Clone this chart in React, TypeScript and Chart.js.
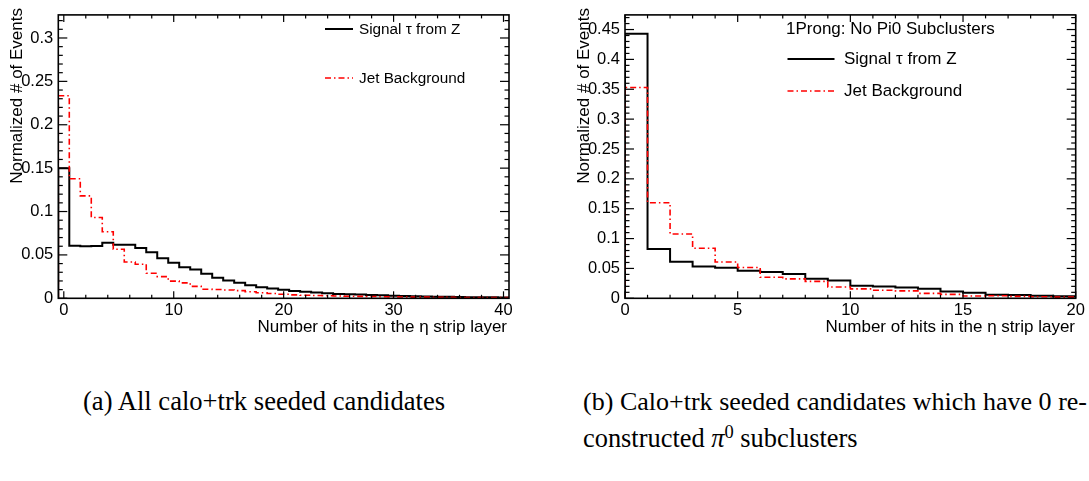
import React, { useEffect, useRef } from "react";
import { Chart, registerables } from "chart.js";

Chart.register(...registerables);

// ---------- Data: left panel (all calo+trk seeded candidates) ----------
// bins centred on integer hit counts 0..40
const leftBinCenters = [
  0, 1, 2, 3, 4, 5, 6, 7, 8, 9, 10, 11, 12, 13, 14, 15, 16, 17, 18, 19, 20,
  21, 22, 23, 24, 25, 26, 27, 28, 29, 30, 31, 32, 33, 34, 35, 36, 37, 38, 39, 40,
];
const leftSignal = [
  0.15, 0.0606, 0.06, 0.0602, 0.064, 0.0617, 0.0617, 0.058, 0.053, 0.0462,
  0.041, 0.0357, 0.0333, 0.0282, 0.0237, 0.0206, 0.0178, 0.015, 0.0127, 0.0112,
  0.0098, 0.0085, 0.0075, 0.0066, 0.0058, 0.005, 0.0047, 0.0044, 0.0038, 0.0035,
  0.003, 0.0027, 0.0024, 0.0021, 0.0019, 0.0017, 0.0015, 0.0013, 0.0012, 0.0011,
  0.001,
];
const leftBackground = [
  0.2334, 0.1377, 0.118, 0.0932, 0.0767, 0.0565, 0.0419, 0.0393, 0.0288, 0.025,
  0.0198, 0.0178, 0.0138, 0.0105, 0.0102, 0.0096, 0.0088, 0.0076, 0.0064, 0.0055,
  0.0047, 0.004, 0.0036, 0.0032, 0.0029, 0.0026, 0.0024, 0.0022, 0.002, 0.0018,
  0.0016, 0.0015, 0.0014, 0.0013, 0.0012, 0.0011, 0.001, 0.001, 0.0009, 0.0009,
  0.0008,
];
const leftXTicks = [0, 10, 20, 30, 40];
const leftYTicks = [0, 0.05, 0.1, 0.15, 0.2, 0.25, 0.3];

// ---------- Data: right panel (0 reconstructed pi0 subclusters) ----------
// bins [n, n+1) for n = 0..19
const rightBinLowEdges = [
  0, 1, 2, 3, 4, 5, 6, 7, 8, 9, 10, 11, 12, 13, 14, 15, 16, 17, 18, 19,
];
const rightSignal = [
  0.443, 0.0826, 0.0614, 0.0533, 0.0511, 0.0462, 0.044, 0.0408, 0.0326, 0.0299,
  0.0212, 0.0196, 0.0179, 0.0158, 0.0114, 0.0092, 0.006, 0.0054, 0.0043, 0.0033,
];
const rightBackground = [
  0.353, 0.16, 0.1076, 0.0837, 0.0609, 0.0516, 0.0353, 0.0326, 0.0283, 0.019,
  0.0158, 0.0136, 0.0125, 0.0082, 0.0065, 0.0038, 0.0043, 0.0033, 0.0027, 0.002,
];
const rightXTicks = [0, 5, 10, 15, 20];
const rightYTicks = [0, 0.05, 0.1, 0.15, 0.2, 0.25, 0.3, 0.35, 0.4, 0.45];

const SANS = '"Liberation Sans", Arial, Helvetica, sans-serif';

function histPoints(lowEdges: number[], width: number, values: number[]) {
  const pts: { x: number; y: number }[] = [{ x: lowEdges[0], y: 0 }];
  values.forEach((v, i) => pts.push({ x: lowEdges[i], y: v }));
  pts.push({ x: lowEdges[values.length - 1] + width, y: 0 });
  return pts;
}

function range(from: number, to: number, step: number) {
  const out: number[] = [];
  const n = Math.round((to - from) / step);
  for (let i = 0; i <= n; i++) out.push(+(from + i * step).toFixed(6));
  return out;
}

type LegendEntry = {
  label: string;
  color: string;
  dash: number[];
  width: number;
  y: number;
};

type PanelProps = {
  left: number;
  width: number;
  height: number;
  xMin: number;
  xMax: number;
  yMax: number;
  xTicks: number[];
  yTicks: number[];
  xMinor: number[];
  yMinor: number[];
  yAxisWidth: number;
  padTop: number;
  padRight: number;
  xAxisHeight: number;
  signal: { x: number; y: number }[];
  background: { x: number; y: number }[];
  yTitleX: number;
  xTitleRight: number;
  header?: { text: string; x: number; y: number };
  legendLineX0: number;
  legendLineX1: number;
  legendTextX: number;
  legendFont: number;
  legend: LegendEntry[];
};

function Panel(p: PanelProps) {
  const ref = useRef<HTMLCanvasElement | null>(null);
  useEffect(() => {
    const canvas = ref.current;
    if (!canvas) return;

    const rootPlugin = {
      id: "rootFrame",
      afterDatasetsDraw(chart: any) {
        const { ctx, chartArea: a, scales } = chart;
        const xs = scales.x;
        const ys = scales.y;
        ctx.save();
        ctx.strokeStyle = "#000";
        ctx.setLineDash([]);
        // ticks
        ctx.lineWidth = 1.2;
        const seg = (x0: number, y0: number, x1: number, y1: number) => {
          ctx.beginPath();
          ctx.moveTo(x0, y0);
          ctx.lineTo(x1, y1);
          ctx.stroke();
        };
        const xMajLen = 7, xMinLen = 3.5, yMajLen = 9, yMinLen = 4.5;
        p.xMinor.forEach((v) => {
          if (v < p.xMin || v > p.xMax) return;
          const px = xs.getPixelForValue(v);
          const len = p.xTicks.includes(v) ? xMajLen : xMinLen;
          seg(px, a.bottom, px, a.bottom - len);
          seg(px, a.top, px, a.top + len);
        });
        p.yMinor.forEach((v) => {
          if (v > p.yMax) return;
          const py = ys.getPixelForValue(v);
          const len = p.yTicks.some((t) => Math.abs(t - v) < 1e-9) ? yMajLen : yMinLen;
          seg(a.left, py, a.left + len, py);
          seg(a.right, py, a.right - len, py);
        });
        // frame
        ctx.lineWidth = 1.6;
        ctx.strokeRect(a.left, a.top, a.right - a.left, a.bottom - a.top);

        // axis titles
        ctx.fillStyle = "#000";
        ctx.font = `17px ${SANS}`;
        ctx.textAlign = "right";
        ctx.textBaseline = "middle";
        ctx.fillText("Number of hits in the \u03b7 strip layer", p.xTitleRight, 327);
        ctx.save();
        ctx.translate(p.yTitleX, 8);
        ctx.rotate(-Math.PI / 2);
        ctx.textAlign = "right";
        ctx.fillText("Normalized # of Events", 0, 0);
        ctx.restore();

        // legend
        ctx.font = `${p.legendFont}px ${SANS}`;
        ctx.textAlign = "left";
        if (p.header) ctx.fillText(p.header.text, p.header.x, p.header.y);
        p.legend.forEach((e) => {
          ctx.strokeStyle = e.color;
          ctx.lineWidth = e.width;
          ctx.setLineDash(e.dash);
          seg(p.legendLineX0, e.y, p.legendLineX1, e.y);
          ctx.setLineDash([]);
          ctx.fillStyle = "#000";
          ctx.fillText(e.label, p.legendTextX, e.y + 0.5);
        });
        ctx.restore();
      },
    };

    const tickFont = { family: SANS, size: 16.5 };
    const chart = new Chart(canvas, {
      type: "line",
      data: {
        datasets: [
          {
            label: "Signal \u03c4 from Z",
            data: p.signal,
            borderColor: "#000000",
            borderWidth: 2,
            stepped: "before",
            pointRadius: 0,
            fill: false,
            order: 1,
          },
          {
            label: "Jet Background",
            data: p.background,
            borderColor: "#ff0000",
            borderWidth: 1.6,
            borderDash: [6, 3, 1.5, 3],
            stepped: "before",
            pointRadius: 0,
            fill: false,
            order: 0,
          },
        ],
      },
      options: {
        animation: false,
        responsive: false,
        devicePixelRatio: 1,
        layout: { padding: { top: p.padTop, right: p.padRight, left: 0, bottom: 0 } },
        plugins: { legend: { display: false }, tooltip: { enabled: false } },
        scales: {
          x: {
            type: "linear",
            min: p.xMin,
            max: p.xMax,
            grid: { display: false, drawTicks: false },
            border: { display: false },
            ticks: {
              padding: 2,
              font: tickFont,
              color: "#000",
              maxRotation: 0,
              autoSkip: false,
              callback: (v: any) => String(v),
            },
            afterBuildTicks: (s: any) => {
              s.ticks = p.xTicks.map((v) => ({ value: v }));
            },
            afterFit: (s: any) => {
              s.height = p.xAxisHeight;
            },
          },
          y: {
            type: "linear",
            min: 0,
            max: p.yMax,
            grid: { display: false, drawTicks: false },
            border: { display: false },
            ticks: {
              padding: 5,
              font: tickFont,
              color: "#000",
              autoSkip: false,
              callback: (v: any) => String(v),
            },
            afterBuildTicks: (s: any) => {
              s.ticks = p.yTicks.map((v) => ({ value: v }));
            },
            afterFit: (s: any) => {
              s.width = p.yAxisWidth;
            },
          },
        },
      } as any,
      plugins: [rootPlugin],
    } as any);
    return () => chart.destroy();
  }, []);
  return (
    <canvas
      ref={ref}
      width={p.width}
      height={p.height}
      style={{ position: "absolute", left: p.left, top: 0, width: p.width, height: p.height }}
    />
  );
}

export default function App() {
  const capStyle: React.CSSProperties = {
    position: "absolute",
    fontFamily: '"Liberation Serif", "Times New Roman", serif',
    fontSize: 26,
    lineHeight: "37px",
    color: "#000",
    whiteSpace: "nowrap",
  };
  return (
    <div
      style={{
        position: "absolute",
        left: 0,
        top: 0,
        width: 1089,
        height: 481,
        background: "#fff",
        overflow: "hidden",
      }}
    >
      <Panel
        left={0}
        width={540}
        height={345}
        xMin={-0.5}
        xMax={40.5}
        yMax={0.3266}
        xTicks={leftXTicks}
        yTicks={leftYTicks}
        xMinor={range(0, 40, 2)}
        yMinor={range(0, 0.32, 0.01)}
        yAxisWidth={58.3}
        padTop={7.3}
        padRight={31}
        xAxisHeight={46.7}
        signal={histPoints(leftBinCenters.map((c) => c - 0.5), 1, leftSignal)}
        background={histPoints(leftBinCenters.map((c) => c - 0.5), 1, leftBackground)}
        yTitleX={17}
        xTitleRight={507}
        legendLineX0={325}
        legendLineX1={353}
        legendTextX={359}
        legendFont={15.3}
        legend={[
          { label: "Signal \u03c4 from Z", color: "#000", dash: [], width: 2, y: 29 },
          { label: "Jet Background", color: "#ff0000", dash: [6, 3, 1.5, 3], width: 1.6, y: 78 },
        ]}
      />
      <Panel
        left={570}
        width={519}
        height={345}
        xMin={0}
        xMax={20}
        yMax={0.4745}
        xTicks={rightXTicks}
        yTicks={rightYTicks}
        xMinor={range(0, 20, 1)}
        yMinor={range(0, 0.47, 0.01)}
        yAxisWidth={55}
        padTop={7.3}
        padRight={13.3}
        xAxisHeight={46.7}
        signal={histPoints(rightBinLowEdges, 1, rightSignal)}
        background={histPoints(rightBinLowEdges, 1, rightBackground)}
        yTitleX={14}
        xTitleRight={505}
        header={{ text: "1Prong: No Pi0 Subclusters", x: 216, y: 29 }}
        legendLineX0={217.5}
        legendLineX1={264.5}
        legendTextX={274}
        legendFont={17}
        legend={[
          { label: "Signal \u03c4 from Z", color: "#000", dash: [], width: 2, y: 59 },
          { label: "Jet Background", color: "#ff0000", dash: [6, 3, 1.5, 3], width: 1.6, y: 91 },
        ]}
      />
      <div style={{ ...capStyle, fontSize: 26.6, left: 83, top: 383 }}>(a) All calo+trk seeded candidates</div>
      <div
        style={{
          ...capStyle,
          left: 583,
          top: 383,
          width: 504,
          textAlign: "justify",
          textAlignLast: "justify",
        }}
      >
        (b) Calo+trk seeded candidates which have 0 re-
      </div>
      <div style={{ ...capStyle, fontSize: 26.4, left: 583, top: 420 }}>
        constructed <i>{"\u03c0"}</i>
        <span style={{ fontSize: "0.7em", position: "relative", top: "-0.5em" }}>0</span> subclusters
      </div>
    </div>
  );
}
